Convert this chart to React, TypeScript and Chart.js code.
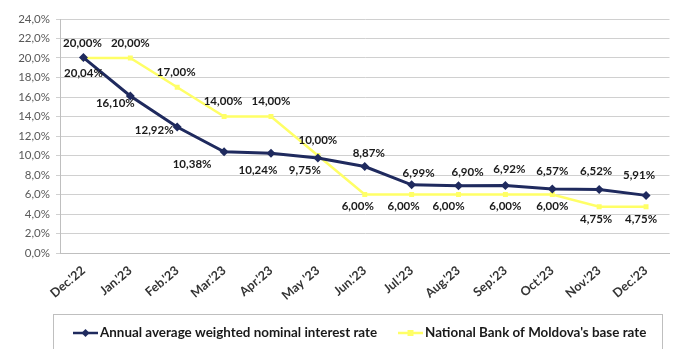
import React, { useEffect, useRef } from "react";
import { Chart, registerables } from "chart.js";

Chart.register(...registerables);

const categories = [
  "Dec.'22", "Jan.'23", "Feb.'23", "Mar.'23", "Apr.'23", "May '23",
  "Jun.'23", "Jul.'23", "Aug.'23", "Sep.'23", "Oct.'23", "Nov.'23", "Dec.'23",
];
const interestRate = [20.04, 16.1, 12.92, 10.38, 10.24, 9.75, 8.87, 6.99, 6.9, 6.92, 6.57, 6.52, 5.91];
const baseRate = [20.0, 20.0, 17.0, 14.0, 14.0, 10.0, 6.0, 6.0, 6.0, 6.0, 6.0, 4.75, 4.75];
const seriesNames = [
  "Annual average weighted nominal interest rate",
  "National Bank of Moldova's base rate",
];
const yTicks = { min: 0, max: 24, step: 2 };

// label offsets (dx, dy) from each point
const interestLabelOffsets = [
  [0, 16], [-15, 7], [-23, 3], [-32, 13], [-13, 17], [-13, 12], [4, -13],
  [7, -12], [9, -13], [4, -16], [0, -18], [-3, -18], [-7, -20],
];
const baseLabelOffsets = [
  [-1, -15], [0, -15], [-1, -15], [-1, -15], [0, -15], [0, -15], [-7, 12],
  [-8, 12], [-10, 12], [0, 12], [0, 12], [-3, 13], [-5, 13],
];

const NAVY = "#1f2a5e";
const YELLOW = "#ffff66";
const FONT = "Lato, 'Open Sans', sans-serif";

const fmtPct = (v: number, d: number) => v.toFixed(d).replace(".", ",") + "%";

const labelPlugin = {
  id: "valueLabels",
  afterDatasetsDraw(chart: any) {
    const ctx = chart.ctx;
    ctx.save();
    ctx.font = `bold 11.5px ${FONT}`;
    ctx.fillStyle = "#1a1a1a";
    ctx.textAlign = "center";
    ctx.textBaseline = "middle";
    const offsetsList = [interestLabelOffsets, baseLabelOffsets];
    chart.data.datasets.forEach((ds: any, di: number) => {
      const meta = chart.getDatasetMeta(di);
      meta.data.forEach((el: any, i: number) => {
        const [dx, dy] = offsetsList[di][i];
        ctx.fillText(fmtPct(ds.data[i], 2), el.x + dx, el.y + dy);
      });
    });
    ctx.restore();
  },
};

const legendPlugin = {
  id: "boxLegend",
  afterDraw(chart: any) {
    const ctx = chart.ctx;
    ctx.save();
    ctx.strokeStyle = "#bfbfbf";
    ctx.lineWidth = 1;
    ctx.strokeRect(53.5, 314.5, 609, 60);
    const y = 333;
    ctx.font = `bold 13.4px ${FONT}`;
    ctx.textBaseline = "middle";
    ctx.textAlign = "left";
    const items = [
      { x: 73, color: NAVY, style: "rectRot", r: 4, name: seriesNames[0] },
      { x: 398, color: YELLOW, style: "rect", r: 3, name: seriesNames[1] },
    ];
    items.forEach((it) => {
      ctx.strokeStyle = it.color;
      ctx.lineWidth = 2.5;
      ctx.beginPath();
      ctx.moveTo(it.x, y);
      ctx.lineTo(it.x + 25, y);
      ctx.stroke();
      ctx.fillStyle = it.color;
      ctx.beginPath();
      if (it.style === "rectRot") {
        const c = it.x + 12.5;
        ctx.moveTo(c, y - it.r);
        ctx.lineTo(c + it.r, y);
        ctx.lineTo(c, y + it.r);
        ctx.lineTo(c - it.r, y);
        ctx.closePath();
      } else {
        ctx.rect(it.x + 12.5 - it.r, y - it.r, it.r * 2, it.r * 2);
      }
      ctx.fill();
      ctx.fillStyle = "#1a1a1a";
      ctx.fillText(it.name, it.x + 27, y);
    });
    ctx.restore();
  },
};

export default function App() {
  const ref = useRef<HTMLCanvasElement>(null);
  useEffect(() => {
    document.body.style.margin = "0";
    const chart = new Chart(ref.current as HTMLCanvasElement, {
      type: "line",
      data: {
        labels: categories,
        datasets: [
          {
            label: seriesNames[0],
            data: interestRate,
            borderColor: NAVY,
            backgroundColor: NAVY,
            borderWidth: 3,
            pointStyle: "rectRot",
            pointRadius: 4.5,
            pointBorderWidth: 0,
            tension: 0,
          },
          {
            label: seriesNames[1],
            data: baseRate,
            borderColor: YELLOW,
            backgroundColor: YELLOW,
            borderWidth: 2.5,
            pointStyle: "rect",
            pointRadius: 3.5,
            pointBorderWidth: 0,
            tension: 0,
          },
        ],
      },
      options: {
        responsive: false,
        animation: false,
        devicePixelRatio: 1,
        layout: { padding: { top: 19, left: 0, right: 2, bottom: 46 } },
        plugins: { legend: { display: false }, tooltip: { enabled: false } },
        scales: {
          x: {
            offset: true,
            grid: { display: false },
            border: { display: true, color: "#bfbfbf" },
            ticks: {
              minRotation: 40,
              maxRotation: 40,
              color: "#333333",
              font: { family: FONT, size: 12.5, weight: "bold" },
              padding: 2,
            },
            afterFit: (s: any) => { s.height = 50; },
          },
          y: {
            min: yTicks.min,
            max: yTicks.max,
            grid: { color: "#d0d0d0", tickLength: 4, lineWidth: 1 },
            border: { display: true, color: "#bfbfbf" },
            ticks: {
              stepSize: yTicks.step,
              color: "#595959",
              font: { family: FONT, size: 11.5 },
              padding: 6,
              callback: (v: any) => fmtPct(Number(v), 1),
            },
            afterFit: (s: any) => { s.width = 60; },
          },
        },
      },
      plugins: [labelPlugin, legendPlugin],
    } as any);
    return () => chart.destroy();
  }, []);
  return (
    <div style={{ width: 674, height: 349, background: "#fff" }}>
      <canvas ref={ref} width={674} height={349} />
    </div>
  );
}
